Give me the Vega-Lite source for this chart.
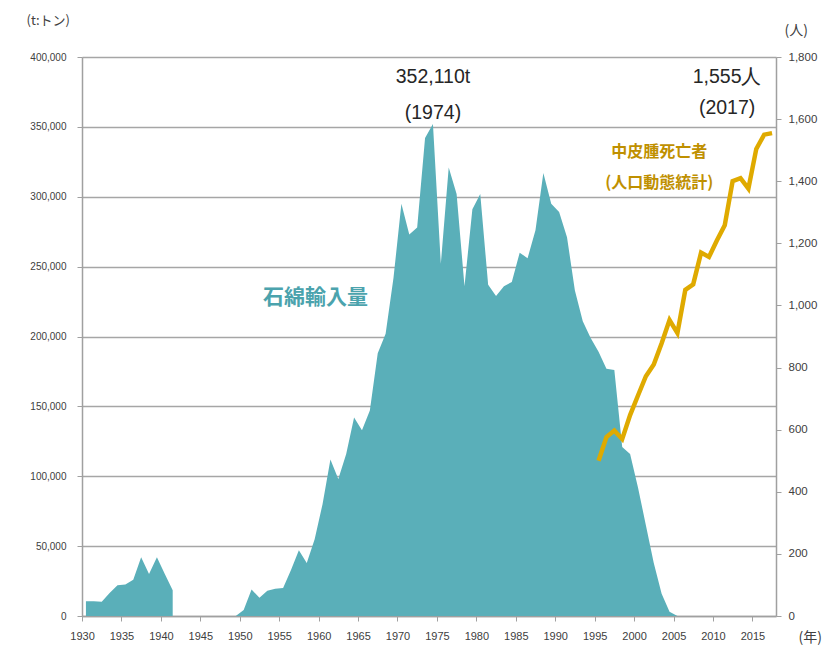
{
  "$schema": "https://vega.github.io/schema/vega-lite/v6.json",
  "width": 694,
  "height": 559,
  "autosize": "none",
  "padding": {"left": 82, "top": 57, "right": 54, "bottom": 37},
  "background": "white",
  "config": {
    "view": {"stroke": null},
    "font": "Liberation Sans",
    "axis": {
      "labelColor": "#404040",
      "labelFont": "Liberation Sans",
      "titleColor": "#404040",
      "titleFont": "Noto Sans CJK JP",
      "titleFontWeight": "normal",
      "domainColor": "#A0A0A0",
      "tickColor": "#A0A0A0",
      "gridColor": "#A6A6A6",
      "domainWidth": 1.5,
      "tickWidth": 1,
      "tickSize": 5
    }
  },
  "datasets": {
    "imports": [
      {"year": 1930, "tons": 10500}, {"year": 1931, "tons": 10500}, {"year": 1932, "tons": 10200},
      {"year": 1933, "tons": 16500}, {"year": 1934, "tons": 22000}, {"year": 1935, "tons": 22500},
      {"year": 1936, "tons": 26000}, {"year": 1937, "tons": 42000}, {"year": 1938, "tons": 30000},
      {"year": 1939, "tons": 42000}, {"year": 1940, "tons": 30000}, {"year": 1941, "tons": 18500},
      {"year": 1942, "tons": null}, {"year": 1943, "tons": null}, {"year": 1944, "tons": null},
      {"year": 1945, "tons": null}, {"year": 1946, "tons": null}, {"year": 1947, "tons": null},
      {"year": 1948, "tons": null},
      {"year": 1949, "tons": 0}, {"year": 1950, "tons": 4300}, {"year": 1951, "tons": 19000},
      {"year": 1952, "tons": 13000}, {"year": 1953, "tons": 18000}, {"year": 1954, "tons": 19500},
      {"year": 1955, "tons": 20000}, {"year": 1956, "tons": 33000}, {"year": 1957, "tons": 47000},
      {"year": 1958, "tons": 38000}, {"year": 1959, "tons": 55000}, {"year": 1960, "tons": 80000},
      {"year": 1961, "tons": 112000}, {"year": 1962, "tons": 98000}, {"year": 1963, "tons": 116000},
      {"year": 1964, "tons": 142000}, {"year": 1965, "tons": 133000}, {"year": 1966, "tons": 147000},
      {"year": 1967, "tons": 188000}, {"year": 1968, "tons": 202000}, {"year": 1969, "tons": 242000},
      {"year": 1970, "tons": 295000}, {"year": 1971, "tons": 273000}, {"year": 1972, "tons": 278000},
      {"year": 1973, "tons": 342000}, {"year": 1974, "tons": 352110}, {"year": 1975, "tons": 252000},
      {"year": 1976, "tons": 321000}, {"year": 1977, "tons": 302000}, {"year": 1978, "tons": 236000},
      {"year": 1979, "tons": 291000}, {"year": 1980, "tons": 302000}, {"year": 1981, "tons": 237000},
      {"year": 1982, "tons": 229000}, {"year": 1983, "tons": 236000}, {"year": 1984, "tons": 239000},
      {"year": 1985, "tons": 260000}, {"year": 1986, "tons": 256000}, {"year": 1987, "tons": 276000},
      {"year": 1988, "tons": 317000}, {"year": 1989, "tons": 295000}, {"year": 1990, "tons": 289000},
      {"year": 1991, "tons": 271000}, {"year": 1992, "tons": 233000}, {"year": 1993, "tons": 211000},
      {"year": 1994, "tons": 199000}, {"year": 1995, "tons": 189000}, {"year": 1996, "tons": 177000},
      {"year": 1997, "tons": 176000}, {"year": 1998, "tons": 121000}, {"year": 1999, "tons": 116000},
      {"year": 2000, "tons": 92000}, {"year": 2001, "tons": 65000}, {"year": 2002, "tons": 38000},
      {"year": 2003, "tons": 16000}, {"year": 2004, "tons": 3000}, {"year": 2005, "tons": 0}
    ],
    "deaths": [
      {"year": 1995, "deaths": 500}, {"year": 1996, "deaths": 576}, {"year": 1997, "deaths": 597},
      {"year": 1998, "deaths": 570}, {"year": 1999, "deaths": 647}, {"year": 2000, "deaths": 710},
      {"year": 2001, "deaths": 772}, {"year": 2002, "deaths": 810}, {"year": 2003, "deaths": 878},
      {"year": 2004, "deaths": 953}, {"year": 2005, "deaths": 911}, {"year": 2006, "deaths": 1050},
      {"year": 2007, "deaths": 1068}, {"year": 2008, "deaths": 1170}, {"year": 2009, "deaths": 1156},
      {"year": 2010, "deaths": 1209}, {"year": 2011, "deaths": 1258}, {"year": 2012, "deaths": 1400},
      {"year": 2013, "deaths": 1410}, {"year": 2014, "deaths": 1376}, {"year": 2015, "deaths": 1504},
      {"year": 2016, "deaths": 1550}, {"year": 2017, "deaths": 1555}
    ],
    "notes": [
      {"year": 1974, "value": 386000, "label": "352,110t"},
      {"year": 1974, "value": 360000, "label": "(1974)"},
      {"year": 2011.3, "value": 386000, "label": "1,555人"},
      {"year": 2011.3, "value": 363500, "label": "(2017)"}
    ],
    "goldnotes": [
      {"year": 2002.7, "value": 332000, "label": "中皮腫死亡者"},
      {"year": 2002.7, "value": 310000, "label": "(人口動態統計)"}
    ],
    "tealnotes": [
      {"year": 1959.1, "value": 227500, "label": "石綿輸入量"}
    ]
  },
  "layer": [
    {
      "data": {"name": "imports"},
      "mark": {"type": "area", "color": "#5AAFB9", "invalid": "break-paths-show-domains"},
      "encoding": {
        "x": {
          "field": "year", "type": "quantitative",
          "scale": {"domain": [1929.5, 2017.5], "nice": false, "zero": false},
          "axis": {
            "values": [1930, 1935, 1940, 1945, 1950, 1955, 1960, 1965, 1970, 1975, 1980, 1985, 1990, 1995, 2000, 2005, 2010, 2015],
            "format": "d", "tickOffset": -3.9, "grid": false,
            "labelFontSize": 11, "labelPadding": 9, "labelFlush": false,
            "title": "(年)", "titleFontSize": 14, "titleX": 716, "titleY": 21,
            "titleAlign": "left", "titleBaseline": "middle", "titleAnchor": null
          }
        },
        "y": {
          "field": "tons", "type": "quantitative",
          "scale": {"domain": [0, 400000], "nice": false},
          "axis": {
            "orient": "left",
            "values": [0, 50000, 100000, 150000, 200000, 250000, 300000, 350000, 400000],
            "format": ",d", "grid": true, "gridWidth": 1.5,
            "labelFontSize": 10, "labelPadding": 11,
            "title": "(t:トン)", "titleFontSize": 13, "titleAngle": 0,
            "titleX": -56, "titleY": -37, "titleAlign": "left", "titleBaseline": "middle"
          }
        }
      }
    },
    {
      "data": {"name": "deaths"},
      "mark": {"type": "line", "color": "#DFAA00", "strokeWidth": 4.5},
      "encoding": {
        "x": {"field": "year", "type": "quantitative"},
        "y": {
          "field": "deaths", "type": "quantitative",
          "scale": {"domain": [0, 1800], "nice": false},
          "axis": {
            "orient": "right",
            "values": [0, 200, 400, 600, 800, 1000, 1200, 1400, 1600, 1800],
            "format": ",d", "grid": false,
            "labelFontSize": 11.5, "labelPadding": 7,
            "title": "(人)", "titleFontSize": 14, "titleAngle": 0,
            "titleX": 8, "titleY": -27, "titleAlign": "left", "titleBaseline": "middle"
          }
        }
      }
    },
    {
      "data": {"name": "notes"},
      "mark": {"type": "text", "fontSize": 19.5, "color": "#262626", "font": "Liberation Sans", "baseline": "middle", "align": "center"},
      "encoding": {
        "x": {"field": "year", "type": "quantitative"},
        "y": {"field": "value", "type": "quantitative", "scale": {"domain": [0, 400000], "nice": false}, "axis": null},
        "text": {"field": "label"}
      }
    },
    {
      "data": {"name": "goldnotes"},
      "mark": {"type": "text", "fontSize": 16, "fontWeight": "bold", "color": "#BF9000", "font": "Noto Sans CJK JP", "baseline": "middle", "align": "center"},
      "encoding": {
        "x": {"field": "year", "type": "quantitative"},
        "y": {"field": "value", "type": "quantitative", "scale": {"domain": [0, 400000], "nice": false}, "axis": null},
        "text": {"field": "label"}
      }
    },
    {
      "data": {"name": "tealnotes"},
      "mark": {"type": "text", "fontSize": 21, "fontWeight": "bold", "color": "#4BA3AD", "font": "Noto Sans CJK JP", "baseline": "middle", "align": "center"},
      "encoding": {
        "x": {"field": "year", "type": "quantitative"},
        "y": {"field": "value", "type": "quantitative", "scale": {"domain": [0, 400000], "nice": false}, "axis": null},
        "text": {"field": "label"}
      }
    }
  ],
  "resolve": {"scale": {"y": "independent"}, "axis": {"y": "independent"}}
}
